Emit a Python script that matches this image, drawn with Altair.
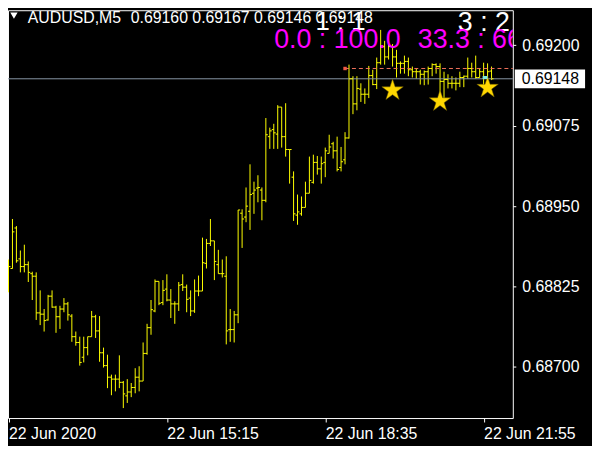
import altair as alt
import pandas as pd

# ---------------- data (AUDUSD, M5, one bar per 5 minutes) ----------------
opens = [0.68836, 0.68853, 0.68916, 0.68868, 0.68856, 0.68859, 0.68845, 0.68841, 0.68784, 0.68782,
         0.68773, 0.68810, 0.68793, 0.68778, 0.68790, 0.68798, 0.68779, 0.68747, 0.68738, 0.68715,
         0.68730, 0.68747, 0.68778, 0.68756, 0.68722, 0.68702, 0.68684, 0.68681, 0.68681, 0.68676,
         0.68655, 0.68661, 0.68668, 0.68684, 0.68678, 0.68721, 0.68761, 0.68787, 0.68833, 0.68800,
         0.68821, 0.68804, 0.68798, 0.68798, 0.68828, 0.68824, 0.68807, 0.68787, 0.68818, 0.68818,
         0.68861, 0.68892, 0.68896, 0.68859, 0.68845, 0.68841, 0.68758, 0.68758, 0.68781, 0.68939,
         0.68933, 0.68942, 0.68970, 0.68978, 0.68975, 0.68959, 0.69058, 0.69069, 0.69062, 0.69104,
         0.69058, 0.69038, 0.68995, 0.68936, 0.68938, 0.68948, 0.68970, 0.68987, 0.69018, 0.69008,
         0.69018, 0.69032, 0.69047, 0.69036, 0.69010, 0.69022, 0.69056, 0.69148, 0.69109, 0.69132,
         0.69124, 0.69124, 0.69153, 0.69139, 0.69173, 0.69198, 0.69182, 0.69198, 0.69182, 0.69172,
         0.69172, 0.69175, 0.69162, 0.69159, 0.69159, 0.69155, 0.69159, 0.69164, 0.69170, 0.69167,
         0.69144, 0.69147, 0.69141, 0.69141, 0.69141, 0.69150, 0.69152, 0.69164, 0.69159, 0.69150,
         0.69159, 0.69150, 0.69160]
highs = [0.68867, 0.68930, 0.68919, 0.68881, 0.68890, 0.68864, 0.68848, 0.68847, 0.68819, 0.68790,
         0.68812, 0.68819, 0.68795, 0.68795, 0.68807, 0.68801, 0.68782, 0.68755, 0.68747, 0.68747,
         0.68747, 0.68787, 0.68781, 0.68779, 0.68730, 0.68719, 0.68688, 0.68688, 0.68718, 0.68678,
         0.68681, 0.68675, 0.68698, 0.68701, 0.68738, 0.68767, 0.68804, 0.68836, 0.68833, 0.68835,
         0.68844, 0.68821, 0.68802, 0.68832, 0.68844, 0.68828, 0.68819, 0.68836, 0.68842, 0.68901,
         0.68899, 0.68930, 0.68896, 0.68882, 0.68867, 0.68872, 0.68790, 0.68787, 0.68944, 0.68945,
         0.68979, 0.69015, 0.68988, 0.68998, 0.68979, 0.69087, 0.69072, 0.69078, 0.69107, 0.69104,
         0.69110, 0.69038, 0.69004, 0.68968, 0.68965, 0.68988, 0.69027, 0.69030, 0.69028, 0.69027,
         0.69041, 0.69061, 0.69050, 0.69058, 0.69042, 0.69065, 0.69170, 0.69152, 0.69152, 0.69141,
         0.69133, 0.69168, 0.69162, 0.69181, 0.69224, 0.69207, 0.69204, 0.69202, 0.69193, 0.69175,
         0.69184, 0.69181, 0.69167, 0.69164, 0.69162, 0.69161, 0.69167, 0.69172, 0.69172, 0.69172,
         0.69159, 0.69155, 0.69152, 0.69150, 0.69159, 0.69153, 0.69181, 0.69173, 0.69184, 0.69164,
         0.69173, 0.69172, 0.69167]
lows = [0.68816, 0.68853, 0.68862, 0.68847, 0.68847, 0.68832, 0.68804, 0.68773, 0.68765, 0.68755,
        0.68772, 0.68792, 0.68753, 0.68759, 0.68785, 0.68772, 0.68739, 0.68733, 0.68702, 0.68707,
        0.68718, 0.68747, 0.68745, 0.68708, 0.68699, 0.68667, 0.68656, 0.68662, 0.68667, 0.68636,
        0.68644, 0.68653, 0.68659, 0.68662, 0.68678, 0.68719, 0.68750, 0.68785, 0.68796, 0.68796,
        0.68802, 0.68776, 0.68767, 0.68787, 0.68818, 0.68785, 0.68779, 0.68784, 0.68810, 0.68818,
        0.68853, 0.68888, 0.68835, 0.68845, 0.68839, 0.68735, 0.68739, 0.68738, 0.68768, 0.68885,
        0.68925, 0.68913, 0.68938, 0.68956, 0.68928, 0.68956, 0.69039, 0.69039, 0.69039, 0.69041,
        0.69027, 0.68985, 0.68927, 0.68921, 0.68935, 0.68948, 0.68970, 0.68985, 0.68999, 0.68985,
        0.68995, 0.69032, 0.69024, 0.69004, 0.69004, 0.69015, 0.69055, 0.69093, 0.69099, 0.69112,
        0.69109, 0.69118, 0.69138, 0.69132, 0.69170, 0.69170, 0.69178, 0.69167, 0.69150, 0.69156,
        0.69156, 0.69152, 0.69150, 0.69148, 0.69139, 0.69138, 0.69139, 0.69152, 0.69156, 0.69121,
        0.69118, 0.69133, 0.69133, 0.69130, 0.69135, 0.69135, 0.69148, 0.69150, 0.69148, 0.69150,
        0.69135, 0.69128, 0.69146]
closes = [0.68856, 0.68910, 0.68865, 0.68856, 0.68859, 0.68847, 0.68841, 0.68784, 0.68782, 0.68772,
          0.68810, 0.68793, 0.68778, 0.68790, 0.68798, 0.68781, 0.68747, 0.68738, 0.68707, 0.68730,
          0.68747, 0.68778, 0.68756, 0.68722, 0.68702, 0.68684, 0.68681, 0.68681, 0.68676, 0.68658,
          0.68661, 0.68668, 0.68684, 0.68678, 0.68721, 0.68761, 0.68789, 0.68833, 0.68799, 0.68819,
          0.68804, 0.68798, 0.68798, 0.68827, 0.68824, 0.68805, 0.68787, 0.68818, 0.68818, 0.68862,
          0.68892, 0.68896, 0.68864, 0.68845, 0.68845, 0.68756, 0.68758, 0.68781, 0.68944, 0.68930,
          0.68950, 0.68968, 0.68975, 0.68979, 0.68959, 0.69061, 0.69067, 0.69064, 0.69104, 0.69058,
          0.69038, 0.69038, 0.68938, 0.68941, 0.68948, 0.68970, 0.68990, 0.69018, 0.69008, 0.69016,
          0.69036, 0.69042, 0.69036, 0.69007, 0.69019, 0.69056, 0.69148, 0.69109, 0.69133, 0.69124,
          0.69124, 0.69153, 0.69139, 0.69173, 0.69198, 0.69182, 0.69198, 0.69182, 0.69172, 0.69172,
          0.69175, 0.69162, 0.69159, 0.69159, 0.69155, 0.69159, 0.69164, 0.69170, 0.69167, 0.69144,
          0.69147, 0.69141, 0.69141, 0.69141, 0.69150, 0.69152, 0.69164, 0.69159, 0.69150, 0.69159,
          0.69150, 0.69159, 0.69148]

tick_bars = [1, 41, 81, 121]
tick_labels = ["22 Jun 2020", "22 Jun 15:15", "22 Jun 18:35", "22 Jun 21:55"]
price_ticks = [0.68700, 0.68825, 0.68950, 0.69075, 0.69200]

star_bars = [98, 110, 122]
star_prices = [0.69130, 0.69113, 0.69134]

bid_price = 0.69148
level_bar = 86
level_price = 0.69164
cyan_bar = [121]
cyan_price = [0.69150]

symbol_text = "AUDUSD,M5"
ratio_white_1 = "1 : 1"
ratio_white_2 = "3 : 2"
ratio_pink_1 = "0.0 : 100.0"
ratio_pink_2 = "33.3 : 66.7"

# ---------------- styling ----------------
W, H = 510, 412
YELLOW = "#FFFF00"
FONT = "Liberation Sans"
STAR = ("M0,-1L0.2245,-0.309L0.951,-0.309L0.363,0.118L0.588,0.809L0,0.382"
        "L-0.588,0.809L-0.363,0.118L-0.951,-0.309L-0.2245,-0.309Z")

bars = pd.DataFrame({"bar": list(range(1, len(opens) + 1)),
                     "open": opens, "high": highs, "low": lows, "close": closes})

xs = alt.Scale(domain=[0.875, 128.375], nice=False, zero=False)
ys = alt.Scale(domain=[0.686205, 0.692546], nice=False, zero=False)

label_expr = ""
for b, t in zip(tick_bars, tick_labels):
    label_expr += f"datum.value == {b} ? '{t}' : "
label_expr += "''"

x_axis = alt.Axis(values=tick_bars, labelExpr=label_expr, labelAlign="left",
                  labelBaseline="top", labelPadding=4, tickSize=4, labelOverlap=False,
                  labelFlush=False, labelBound=False, title=None)
y_axis = alt.Axis(orient="right", values=price_ticks, format=".5f", tickSize=3,
                  labelPadding=6, labelOverlap=False, labelFlush=False, title=None)


def X(field):
    return alt.X(field, scale=xs, axis=x_axis, title=None)


def Y(field):
    return alt.Y(field, scale=ys, axis=y_axis, title=None)


base = alt.Chart(bars)

hl = base.mark_rule(color=YELLOW, strokeWidth=1).encode(
    x=X("bar:Q"), y=Y("low:Q"), y2="high:Q")
op = base.mark_rule(color=YELLOW, strokeWidth=1, xOffset=-2, x2Offset=0).encode(
    x=X("bar:Q"), x2="bar:Q", y=Y("open:Q"))
cl = base.mark_rule(color=YELLOW, strokeWidth=1, xOffset=0, x2Offset=2).encode(
    x=X("bar:Q"), x2="bar:Q", y=Y("close:Q"))

bid_line = alt.Chart(pd.DataFrame({"p": [bid_price]})).mark_rule(
    color="#8896A6", strokeWidth=1).encode(y=Y("p:Q"))

level_df = pd.DataFrame({"bar": [level_bar], "p": [level_price]})
level_line = alt.Chart(level_df).mark_rule(
    color="#F0705A", strokeWidth=1, strokeDash=[4, 3]).encode(
    x=X("bar:Q"), x2=alt.value(W), y=Y("p:Q"))
level_dot = alt.Chart(level_df).mark_square(
    color="#F05A46", size=12, opacity=1).encode(x=X("bar:Q"), y=Y("p:Q"))

stars = alt.Chart(pd.DataFrame({"bar": star_bars, "p": star_prices})).mark_point(
    shape=STAR, filled=True, fill="#FFD700", stroke="#6B5A00", strokeWidth=0.5,
    size=520, opacity=1).encode(x=X("bar:Q"), y=Y("p:Q"))

cyan = alt.Chart(pd.DataFrame({"bar": cyan_bar, "p": cyan_price})).mark_rule(
    color="#7FE8DC", strokeWidth=3, xOffset=-1, x2Offset=4).encode(
    x=X("bar:Q"), x2="bar:Q", y=Y("p:Q"))

# price label box on the axis
bid_df = pd.DataFrame({"p": [bid_price], "t": [f"{bid_price:.5f}"]})
bid_box = alt.Chart(bid_df).mark_rule(color="white", strokeWidth=19, strokeCap="butt").encode(
    x=alt.value(512), x2=alt.value(583), y=Y("p:Q"))
bid_txt = alt.Chart(bid_df).mark_text(
    color="black", font=FONT, fontSize=16, align="left", baseline="middle").encode(
    x=alt.value(519), y=Y("p:Q"), text="t:N")

# header texts
header_nums = " ".join(f"{v:.5f}" for v in [opens[-1], highs[-1], lows[-1], closes[-1]])
tri = alt.Chart(pd.DataFrame({"a": [0]})).mark_point(
    shape="triangle-down", filled=True, color="white", size=55, opacity=1).encode(
    x=alt.value(6), y=alt.value(5.5))


def txt(s, x, y, size, color, align="left", clip=False):
    return alt.Chart(pd.DataFrame({"t": [s]})).mark_text(
        font=FONT, fontSize=size, color=color, align=align, baseline="alphabetic",
        clip=clip).encode(x=alt.value(x), y=alt.value(y), text="t:N")


hdr1 = txt(symbol_text, 20, 13, 16, "white")
hdr2 = txt(header_nums, 124, 13, 16, "white")
r1 = txt(ratio_white_1, 336, 20, 26, "white", align="center")
r2 = txt(ratio_white_2, 507, 21, 27, "white", align="right")
p1 = txt(ratio_pink_1, 269, 38, 27, "#FF00FF", clip=True)
p2 = txt(ratio_pink_2, 414, 38, 27, "#FF00FF", clip=True)

chart = alt.layer(
    hl, bid_line, level_line, level_dot, op, cl, stars, cyan,
    bid_box, bid_txt, tri, hdr1, hdr2, r1, r2, p1, p2
).properties(
    width=W, height=H, background="black",
    autosize=alt.AutoSizeParams(type="none"),
    padding={"left": 0, "top": 0, "right": 80, "bottom": 26}
).configure_view(
    stroke="white", strokeWidth=1
).configure_axis(
    labelFont=FONT, labelFontSize=16, labelColor="white", tickColor="white",
    domain=False, grid=False
)

chart.save("out.html", embed_options={"renderer": "svg", "actions": False})
